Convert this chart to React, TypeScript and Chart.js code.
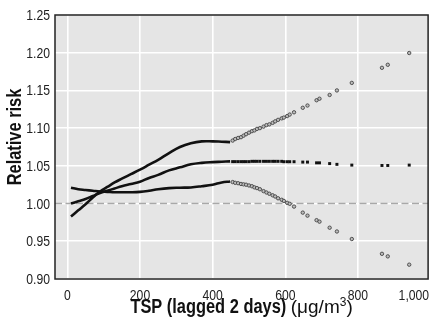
import React, { useEffect, useRef } from "react";
import { Chart, registerables } from "chart.js";

Chart.register(...registerables);

// Solid (dense) part of the curves, TSP in µg/m3
const lineTsp = [10, 30, 50, 70, 90, 110, 130, 150, 175, 200, 225, 250, 280, 310, 340, 370, 400, 425, 448];
const lineEstimate = [1.0, 1.003, 1.006, 1.01, 1.014, 1.017, 1.02, 1.023, 1.026, 1.029, 1.034, 1.038, 1.044, 1.048, 1.052, 1.054, 1.055, 1.0555, 1.056];
const lineUpper = [0.983, 0.991, 0.999, 1.008, 1.016, 1.022, 1.028, 1.033, 1.039, 1.045, 1.0515, 1.058, 1.067, 1.075, 1.08, 1.0825, 1.0825, 1.082, 1.0815];
const lineLower = [1.021, 1.019, 1.018, 1.017, 1.016, 1.0155, 1.015, 1.015, 1.015, 1.0155, 1.017, 1.019, 1.0205, 1.021, 1.0214, 1.023, 1.025, 1.028, 1.0293];

// Sparse part, drawn as individual points
const pointTsp = [455, 462, 470, 478, 485, 492, 500, 508, 515, 522, 530, 540, 548, 556, 565, 572, 580, 590, 596, 605, 612, 624, 648, 661, 686, 694, 722, 742, 783, 866, 882, 941];
const pointEstimate = [1.0556, 1.0556, 1.0556, 1.0556, 1.0556, 1.0556, 1.0556, 1.056, 1.056, 1.056, 1.056, 1.056, 1.056, 1.056, 1.056, 1.056, 1.056, 1.056, 1.0555, 1.0555, 1.0555, 1.0555, 1.055, 1.055, 1.054, 1.054, 1.053, 1.052, 1.051, 1.0505, 1.0505, 1.051];
const pointUpper = [1.0835, 1.0856, 1.087, 1.088, 1.09, 1.092, 1.094, 1.096, 1.097, 1.099, 1.1, 1.102, 1.104, 1.105, 1.107, 1.109, 1.111, 1.113, 1.114, 1.116, 1.118, 1.121, 1.127, 1.13, 1.137, 1.139, 1.144, 1.15, 1.16, 1.18, 1.184, 1.1996];
const pointLower = [1.0285, 1.0275, 1.027, 1.026, 1.0255, 1.025, 1.024, 1.023, 1.0215, 1.0205, 1.019, 1.0165, 1.0147, 1.013, 1.011, 1.0094, 1.007, 1.005, 1.0035, 1.001, 0.9997, 0.996, 0.988, 0.984, 0.978, 0.976, 0.968, 0.963, 0.953, 0.9334, 0.93, 0.919];

// Reference line (relative risk = 1)
const refLineX = [-34, 993];
const refLineY = [1, 1];

const xTicks = [0, 200, 400, 600, 800, 1000];
const xTickLabels = ["0", "200", "400", "600", "800", "1,000"];
const yTicks = [0.9, 0.95, 1.0, 1.05, 1.1, 1.15, 1.2, 1.25];
const yTickLabels = ["0.90", "0.95", "1.00", "1.05", "1.10", "1.15", "1.20", "1.25"];

const xTitleBold = "TSP (lagged 2 days)";
const xTitleUnit = "(\u03bcg/m";
const xTitleSup = "3";
const yTitle = "Relative risk";

const FONT = "'Liberation Sans', Arial, sans-serif";
const TICK_SX = 0.87;
const TITLE_SX = 0.82;
const X_MIN = -34;
const X_MAX = 993;

const pts = (xs: number[], ys: number[]) => xs.map((x, i) => ({ x, y: ys[i] }));

function squeezedText(ctx: CanvasRenderingContext2D, s: string, x: number, y: number, align: CanvasTextAlign, sx: number) {
  ctx.save();
  ctx.translate(x, y);
  ctx.scale(sx, 1);
  ctx.textAlign = align;
  ctx.fillText(s, 0, 0);
  ctx.restore();
}

export default function App() {
  const ref = useRef<HTMLCanvasElement | null>(null);

  useEffect(() => {
    if (!ref.current) return;
    const decor = {
      id: "decor",
      beforeDraw(chart: any) {
        const { ctx, chartArea: a } = chart;
        ctx.save();
        ctx.fillStyle = "#e5e5e5";
        ctx.fillRect(a.left, a.top, a.right - a.left, a.bottom - a.top);
        ctx.restore();
      },
      afterDraw(chart: any) {
        const { ctx, chartArea: a } = chart;
        const xs = chart.scales.x;
        const ys = chart.scales.y;
        ctx.save();
        ctx.strokeStyle = "#222";
        ctx.lineWidth = 1.5;
        ctx.strokeRect(a.left, a.top, a.right - a.left, a.bottom - a.top);

        // tick labels
        ctx.fillStyle = "#222";
        ctx.font = `14px ${FONT}`;
        ctx.textBaseline = "alphabetic";
        xTicks.forEach((v, i) => {
          if (v > xs.max) {
            squeezedText(ctx, xTickLabels[i], a.right + 1, a.bottom + 21, "right", TICK_SX);
          } else {
            squeezedText(ctx, xTickLabels[i], xs.getPixelForValue(v), a.bottom + 21, "center", TICK_SX);
          }
        });
        yTicks.forEach((v, i) => {
          squeezedText(ctx, yTickLabels[i], a.left - 5, ys.getPixelForValue(v) + 5, "right", TICK_SX);
        });

        // x title
        const boldFont = `bold 20px ${FONT}`;
        const regFont = `19px ${FONT}`;
        const supFont = `12px ${FONT}`;
        ctx.font = boldFont;
        const wb = ctx.measureText(xTitleBold + " ").width * TITLE_SX;
        ctx.font = regFont;
        const wu = ctx.measureText(xTitleUnit).width;
        const wclose = ctx.measureText(")").width;
        ctx.font = supFont;
        const wsup = ctx.measureText(xTitleSup).width;
        const total = wb + wu + wsup + wclose;
        let x = (a.left + a.right) / 2 - total / 2;
        const by = 313;
        ctx.fillStyle = "#111";
        ctx.font = boldFont;
        squeezedText(ctx, xTitleBold, x, by, "left", TITLE_SX);
        x += wb;
        ctx.font = regFont;
        ctx.textAlign = "left";
        ctx.fillText(xTitleUnit, x, by);
        x += wu;
        ctx.font = supFont;
        ctx.fillText(xTitleSup, x, by - 7);
        x += wsup;
        ctx.font = regFont;
        ctx.fillText(")", x, by);

        // y title
        ctx.translate(21, 137);
        ctx.rotate(-Math.PI / 2);
        ctx.font = boldFont;
        squeezedText(ctx, yTitle, 0, 0, "center", TITLE_SX);
        ctx.restore();
      },
    };

    const chart = new Chart(ref.current, {
      type: "scatter",
      data: {
        datasets: [
          {
            data: pts(pointTsp, pointEstimate),
            showLine: false,
            pointStyle: "rect",
            pointRadius: 2.1,
            backgroundColor: "#111",
            borderColor: "#111",
            borderWidth: 0,
          },
          {
            data: pts(pointTsp, pointUpper),
            showLine: false,
            pointStyle: "circle",
            pointRadius: 1.7,
            backgroundColor: "#bdbdbd",
            borderColor: "#444",
            borderWidth: 0.9,
          },
          {
            data: pts(pointTsp, pointLower),
            showLine: false,
            pointStyle: "circle",
            pointRadius: 1.7,
            backgroundColor: "#bdbdbd",
            borderColor: "#444",
            borderWidth: 0.9,
          },
          {
            data: pts(lineTsp, lineEstimate),
            showLine: true,
            borderColor: "#111",
            borderWidth: 2.6,
            pointRadius: 0,
            tension: 0.4,
          },
          {
            data: pts(lineTsp, lineUpper),
            showLine: true,
            borderColor: "#111",
            borderWidth: 2.6,
            pointRadius: 0,
            tension: 0.4,
          },
          {
            data: pts(lineTsp, lineLower),
            showLine: true,
            borderColor: "#111",
            borderWidth: 2.6,
            pointRadius: 0,
            tension: 0.4,
          },
          {
            data: pts(refLineX, refLineY),
            showLine: true,
            borderColor: "#a8a8a8",
            borderWidth: 1.5,
            borderDash: [7, 3.5],
            pointRadius: 0,
          },
        ],
      },
      options: {
        animation: false,
        responsive: false,
        devicePixelRatio: 1,
        layout: { padding: { left: 0, top: 15, right: 2, bottom: 0 } },
        plugins: { legend: { display: false }, tooltip: { enabled: false } },
        scales: {
          x: {
            type: "linear",
            min: X_MIN,
            max: X_MAX,
            afterBuildTicks: (s: any) => {
              s.ticks = xTicks.filter((v) => v <= X_MAX).map((v) => ({ value: v }));
            },
            afterFit: (s: any) => {
              s.height = 47;
            },
            grid: { color: "#ffffff", lineWidth: 1.6, drawTicks: false },
            border: { display: false },
            ticks: { display: false },
          },
          y: {
            type: "linear",
            min: 0.9,
            max: 1.25,
            afterBuildTicks: (s: any) => {
              s.ticks = yTicks.map((v) => ({ value: v }));
            },
            afterFit: (s: any) => {
              s.width = 55;
            },
            grid: { color: "#ffffff", lineWidth: 1.6, drawTicks: false },
            border: { display: false },
            ticks: { display: false },
          },
        },
      },
      plugins: [decor],
    });
    return () => chart.destroy();
  }, []);

  return (
    <div style={{ position: "fixed", left: 0, top: 0, width: 433, height: 326 }}>
      <canvas ref={ref} width={433} height={326} style={{ display: "block" }} />
    </div>
  );
}
